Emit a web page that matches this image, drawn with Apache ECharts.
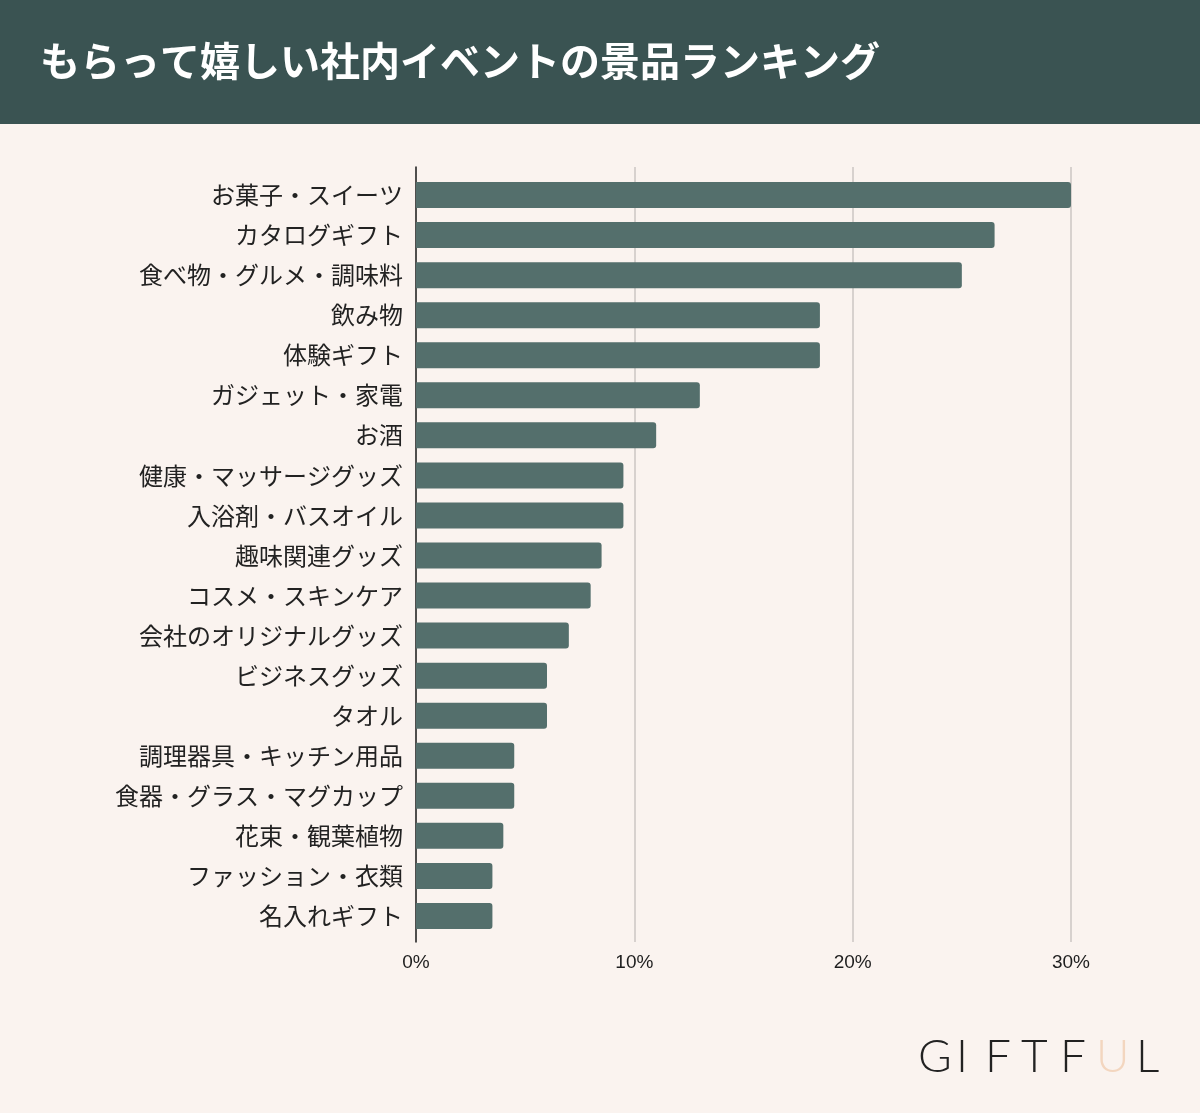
<!DOCTYPE html>
<html>
<head>
<meta charset="utf-8">
<script src="https://cdn.jsdelivr.net/npm/echarts@6/dist/echarts.min.js"></script>
<style>
  html, body { margin: 0; padding: 0; background: #faf3ef; }
  #chart { width: 1200px; height: 1113px; }
</style>
</head>
<body>
<div id="chart"></div>
<script>
// データ
const categories = [
  'お菓子・スイーツ', 'カタログギフト', '食べ物・グルメ・調味料', '飲み物', '体験ギフト',
  'ガジェット・家電', 'お酒', '健康・マッサージグッズ', '入浴剤・バスオイル', '趣味関連グッズ',
  'コスメ・スキンケア', '会社のオリジナルグッズ', 'ビジネスグッズ', 'タオル', '調理器具・キッチン用品',
  '食器・グラス・マグカップ', '花束・観葉植物', 'ファッション・衣類', '名入れギフト'
];
const values = [30.0, 26.5, 25.0, 18.5, 18.5, 13.0, 11.0, 9.5, 9.5, 8.5, 8.0, 7.0, 6.0, 6.0, 4.5, 4.5, 4.0, 3.5, 3.5];
const xTicks = [0, 10, 20, 30];
const title = 'もらって嬉しい社内イベントの景品ランキング';
const logoLetters = ['G', 'I', 'F', 'T', 'F', 'U', 'L'];

const chart = echarts.init(document.getElementById('chart'));

const font = '"Noto Sans CJK JP", "Noto Sans", sans-serif';

// ロゴ文字（一文字ずつ並べる）
const logoX = [932, 970, 999, 1035, 1074, 1110, 1150];
const logo = logoLetters.map((ch, i) => ({
  type: 'text',
  left: logoX[i] - 14,
  top: 1034,
  style: {
    text: ch,
    font: '300 46px Lato, "DejaVu Sans", sans-serif',
    fill: ch === 'U' ? '#f3d6bf' : '#222222',
    textAlign: 'center'
  }
}));

const option = {
  backgroundColor: '#faf3ef',
  animation: false,
  graphic: [
    {
      type: 'rect',
      shape: { x: 0, y: 0, width: 1200, height: 124 },
      style: { fill: '#3a5352' },
      silent: true
    },
    {
      type: 'text',
      left: 40,
      top: 41,
      style: {
        text: title,
        font: 'bold 40px ' + font,
        fill: '#ffffff'
      }
    }
  ].concat(logo),
  grid: [
    // 軸線・グリッド用
    { left: 416, right: 129, top: 167, height: 775 },
    // 棒グラフ用
    { left: 416, right: 129, top: 175, height: 761 }
  ],
  xAxis: [
    {
      gridIndex: 0,
      type: 'value',
      min: 0,
      max: 30,
      interval: 10,
      axisLine: { show: false },
      axisTick: { show: false },
      splitLine: { lineStyle: { color: '#cbc6c3', width: 1.5 } },
      axisLabel: {
        margin: 11,
        fontSize: 19,
        color: '#1e1e1e',
        fontFamily: '"Liberation Sans", Arial, sans-serif',
        formatter: v => xTicks.includes(v) ? v + '%' : ''
      }
    },
    {
      gridIndex: 1,
      type: 'value',
      min: 0,
      max: 30,
      show: false
    }
  ],
  yAxis: [
    {
      gridIndex: 0,
      type: 'category',
      inverse: true,
      data: categories,
      axisLine: { show: true, lineStyle: { color: '#222', width: 1.5 } },
      axisTick: { show: false },
      axisLabel: { show: false }
    },
    {
      gridIndex: 1,
      type: 'category',
      inverse: true,
      data: categories,
      axisLine: { show: false },
      axisTick: { show: false },
      axisLabel: {
        margin: 13,
        fontSize: 24,
        color: '#222',
        fontFamily: font
      }
    }
  ],
  series: [
    {
      type: 'bar',
      xAxisIndex: 1,
      yAxisIndex: 1,
      data: values,
      barWidth: 26,
      itemStyle: { color: '#546f6c', borderRadius: [0, 3, 3, 0] }
    }
  ]
};

chart.setOption(option);
</script>
</body>
</html>
